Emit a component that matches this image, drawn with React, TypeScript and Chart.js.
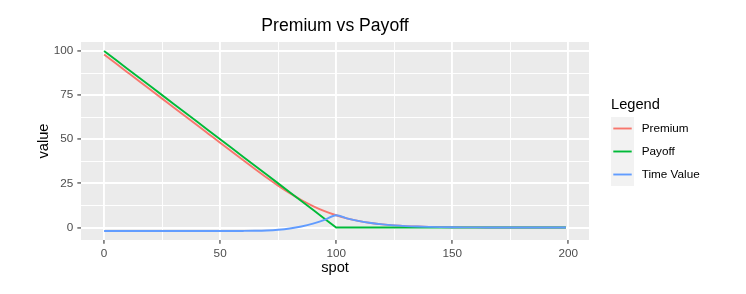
import React, { useEffect, useRef } from "react";
import { Chart, registerables } from "chart.js";

Chart.register(...registerables);

const spot = [0, 5, 10, 15, 20, 25, 30, 35, 40, 45, 50, 55, 60, 65, 70, 75, 80, 85, 90, 95, 100,
  105, 110, 115, 120, 125, 130, 135, 140, 145, 150, 155, 160, 165, 170, 175, 180, 185, 190, 195, 199];

const premium = [98.02, 93.02, 88.02, 83.02, 78.02, 73.02, 68.02, 63.02, 58.02, 53.02, 48.02,
  43.03, 38.06, 33.14, 28.33, 23.74, 19.45, 15.57, 12.17, 9.29, 6.94,
  5.07, 3.63, 2.55, 1.76, 1.2, 0.8, 0.53, 0.35, 0.23, 0.15, 0.09, 0.06, 0.04, 0.02, 0.01, 0.01, 0.01, 0, 0, 0];

const payoff = [100, 95, 90, 85, 80, 75, 70, 65, 60, 55, 50, 45, 40, 35, 30, 25, 20, 15, 10, 5, 0,
  0, 0, 0, 0, 0, 0, 0, 0, 0, 0, 0, 0, 0, 0, 0, 0, 0, 0, 0, 0];

const timeValue = [-1.98, -1.98, -1.98, -1.98, -1.98, -1.98, -1.98, -1.98, -1.98, -1.98, -1.98,
  -1.97, -1.94, -1.86, -1.67, -1.26, -0.55, 0.57, 2.17, 4.29, 6.94,
  5.07, 3.63, 2.55, 1.76, 1.2, 0.8, 0.53, 0.35, 0.23, 0.15, 0.09, 0.06, 0.04, 0.02, 0.01, 0.01, 0.01, 0, 0, 0];

const seriesNames = ["Premium", "Payoff", "Time Value"];
const seriesColors = ["#F8766D", "#00BA38", "#619CFF"];

const xMajorTicks = [0, 50, 100, 150, 200];
const xMinorTicks = [25, 75, 125, 175];
const yMajorTicks = [0, 25, 50, 75, 100];
const yMinorTicks = [12.5, 37.5, 62.5, 87.5];

const chartTitle = "Premium vs Payoff";
const xTitle = "spot";
const yTitle = "value";
const legendTitle = "Legend";

const FONT = "'Liberation Sans', Arial, Helvetica, sans-serif";

const bgPlugin = {
  id: "ggBackground",
  beforeDraw(chart: any) {
    const { ctx, chartArea, width, height } = chart;
    ctx.save();
    ctx.fillStyle = "#FFFFFF";
    ctx.fillRect(0, 0, width, height);
    ctx.fillStyle = "#EBEBEB";
    ctx.fillRect(chartArea.left, chartArea.top, chartArea.right - chartArea.left, chartArea.bottom - chartArea.top);
    ctx.restore();
  },
};

const legendPlugin = {
  id: "ggLegend",
  afterDraw(chart: any) {
    const { ctx } = chart;
    const x0 = 611;
    const keyTop = 117;
    const keySize = 23;
    ctx.save();
    ctx.fillStyle = "#000000";
    ctx.font = `14.67px ${FONT}`;
    ctx.textAlign = "left";
    ctx.textBaseline = "alphabetic";
    ctx.fillText(legendTitle, x0, 108.7);
    seriesNames.forEach((name, i) => {
      const top = keyTop + i * keySize;
      const cy = top + keySize / 2;
      ctx.fillStyle = "#F2F2F2";
      ctx.fillRect(x0, top, keySize, keySize);
      ctx.strokeStyle = seriesColors[i];
      ctx.lineWidth = 1.9;
      ctx.beginPath();
      ctx.moveTo(x0 + 2.3, cy);
      ctx.lineTo(x0 + keySize - 2.3, cy);
      ctx.stroke();
      ctx.fillStyle = "#000000";
      ctx.font = `11.73px ${FONT}`;
      ctx.textBaseline = "middle";
      ctx.fillText(name, 641.7, cy);
    });
    ctx.restore();
  },
};

const seriesData = [premium, payoff, timeValue];

export default function App() {
  const ref = useRef<HTMLCanvasElement | null>(null);

  useEffect(() => {
    if (!ref.current) return;
    const tickFont = { family: FONT, size: 11.73 };
    const titleFont = { family: FONT, size: 14.67 };
    const xAll = [...xMajorTicks, ...xMinorTicks].sort((a, b) => a - b);
    const yAll = [...yMajorTicks, ...yMinorTicks].sort((a, b) => a - b);

    const datasets = seriesNames.map((name, i) => ({
      label: name,
      data: spot.map((x, j) => ({ x, y: seriesData[i][j] })),
      borderColor: seriesColors[i],
      backgroundColor: seriesColors[i],
      borderWidth: 1.9,
      pointRadius: 0,
      fill: false,
      cubicInterpolationMode: name === "Payoff" ? "default" : "monotone",
      tension: 0,
      order: 2 - i,
    }));

    const chart = new Chart(ref.current, {
      type: "line",
      data: { datasets: datasets as any },
      options: {
        animation: false,
        responsive: false,
        devicePixelRatio: 1,
        layout: { padding: { left: 0, right: 157, top: 0, bottom: 0 } },
        plugins: {
          legend: { display: false },
          tooltip: { enabled: false },
          title: {
            display: true,
            text: chartTitle,
            fullSize: false,
            color: "#000000",
            font: { family: FONT, size: 17.6, weight: "normal" },
            padding: { top: 15.5, bottom: 5.38 },
          },
        },
        scales: {
          x: {
            type: "linear",
            min: -9.95,
            max: 208.95,
            afterBuildTicks: (s: any) => {
              s.ticks = xAll.map((v) => ({ value: v }));
            },
            afterFit: (s: any) => {
              s.height = 54;
            },
            border: { display: false },
            grid: {
              color: "#FFFFFF",
              lineWidth: (c: any) => (xMajorTicks.includes(c.tick?.value) ? 1.9 : 0.95),
              tickColor: (c: any) => (xMajorTicks.includes(c.tick?.value) ? "#333333" : "rgba(0,0,0,0)"),
              tickWidth: 1.1,
              tickLength: 3.67,
              drawTicks: true,
            },
            ticks: {
              autoSkip: false,
              maxRotation: 0,
              padding: 3,
              color: "#4D4D4D",
              font: tickFont,
              callback: (v: any) => (xMajorTicks.includes(v) ? String(v) : ""),
            },
            title: {
              display: true,
              text: xTitle,
              color: "#000000",
              font: titleFont,
              padding: { top: 0, bottom: 17 },
            },
          },
          y: {
            type: "linear",
            min: -7.08,
            max: 105.1,
            afterBuildTicks: (s: any) => {
              s.ticks = yAll.map((v) => ({ value: v }));
            },
            afterFit: (s: any) => {
              s.width = 81;
            },
            border: { display: false },
            grid: {
              color: "#FFFFFF",
              lineWidth: (c: any) => (yMajorTicks.includes(c.tick?.value) ? 1.9 : 0.95),
              tickColor: (c: any) => (yMajorTicks.includes(c.tick?.value) ? "#333333" : "rgba(0,0,0,0)"),
              tickWidth: 1.1,
              tickLength: 3.67,
              drawTicks: true,
            },
            ticks: {
              autoSkip: false,
              padding: 4,
              color: "#4D4D4D",
              font: tickFont,
              callback: (v: any) => (yMajorTicks.includes(v) ? String(v) : ""),
            },
            title: {
              display: true,
              text: yTitle,
              color: "#000000",
              font: titleFont,
              padding: { top: 35.2, bottom: 0 },
            },
          },
        },
      } as any,
      plugins: [bgPlugin, legendPlugin],
    });
    return () => chart.destroy();
  }, []);

  return (
    <div style={{ position: "fixed", left: 0, top: 0, width: 746, height: 294, background: "#FFFFFF" }}>
      <canvas ref={ref} width={746} height={294} style={{ display: "block" }} />
    </div>
  );
}
